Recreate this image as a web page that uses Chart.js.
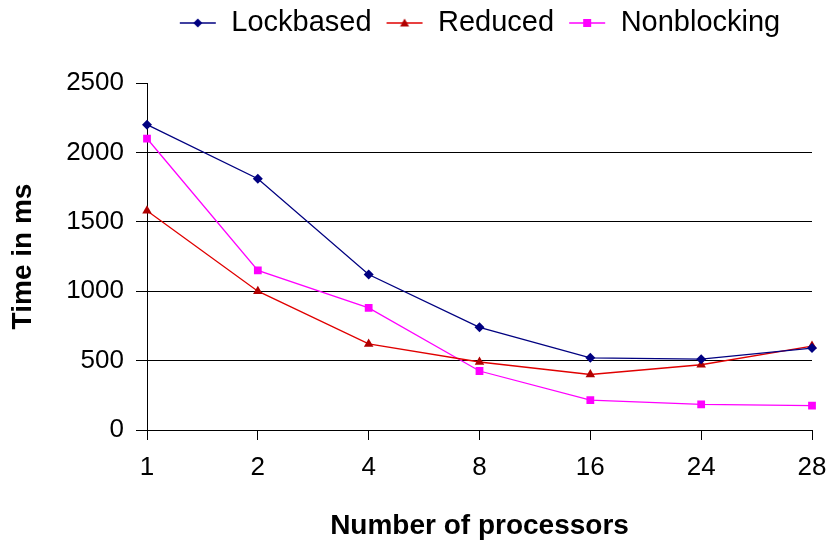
<!DOCTYPE html>
<html>
<head>
<meta charset="utf-8">
<script src="https://cdn.jsdelivr.net/npm/chart.js@4.4.1/dist/chart.umd.min.js"></script>
<style>
  html, body { margin: 0; padding: 0; background: #fff; }
</style>
</head>
<body>
<canvas id="grafico" width="832" height="546"></canvas>
<script>
const processadores = ['1', '2', '4', '8', '16', '24', '28'];
const lockbased = [2200, 1810, 1120, 740, 520, 510, 590];
const reduced = [1580, 1000, 620, 490, 400, 470, 605];
const nonblocking = [2100, 1150, 880, 425, 215, 185, 175];
const yTicks = [0, 500, 1000, 1500, 2000, 2500];

const fonte = "'Liberation Sans', Arial, sans-serif";

// little "line + marker" icons for the legend, excel style
function iconeLegenda(corLinha, corMarca, estilo) {
    const c = document.createElement('canvas');
    c.width = 38;
    c.height = 14;
    const g = c.getContext('2d');
    g.strokeStyle = corLinha;
    g.lineWidth = 1.5;
    g.beginPath();
    g.moveTo(1, 7);
    g.lineTo(37, 7);
    g.stroke();
    g.fillStyle = corMarca;
    g.beginPath();
    if (estilo === 'rectRot') {
        g.moveTo(19, 2.5); g.lineTo(23.5, 7); g.lineTo(19, 11.5); g.lineTo(14.5, 7);
    } else if (estilo === 'triangle') {
        g.moveTo(19, 2.5); g.lineTo(23.5, 10.5); g.lineTo(14.5, 10.5);
    } else {
        g.rect(15, 3, 8, 8);
    }
    g.closePath();
    g.fill();
    return c;
}

const icones = [
    iconeLegenda('#000080', '#000080', 'rectRot'),
    iconeLegenda('#e00000', '#b00000', 'triangle'),
    iconeLegenda('#ff00ff', '#ff00ff', 'rect')
];

// legend sits centred over the plot area, close to the top edge
const legendaNoCentro = {
    id: 'legendaNoCentro',
    afterLayout(chart) {
        const lg = chart.legend;
        const area = chart.chartArea;
        const dx = (area.left + area.right) / 2 - (lg.left + lg.right) / 2;
        lg.left += dx;
        lg.right += dx;
        const dy = 21 - (lg.top + lg.bottom) / 2;
        lg.top += dy;
        lg.bottom += dy;
    }
};

const ctx = document.getElementById('grafico').getContext('2d');

const meuGrafico = new Chart(ctx, {
    type: 'line',
    data: {
        labels: processadores,
        datasets: [{
            label: 'Lockbased',
            data: lockbased,
            borderColor: '#000080',
            backgroundColor: '#000080',
            borderWidth: 1.3,
            pointStyle: 'rectRot',
            pointRadius: 5,
            pointBorderWidth: 0,
            tension: 0
        }, {
            label: 'Reduced',
            data: reduced,
            borderColor: '#e00000',
            backgroundColor: '#b00000',
            borderWidth: 1.3,
            pointStyle: 'triangle',
            pointRadius: 5.5,
            pointBorderWidth: 0,
            tension: 0
        }, {
            label: 'Nonblocking',
            data: nonblocking,
            borderColor: '#ff00ff',
            backgroundColor: '#ff00ff',
            borderWidth: 1.3,
            pointStyle: 'rect',
            pointRadius: 5.5,
            pointBorderWidth: 0,
            tension: 0
        }]
    },
    options: {
        responsive: false,
        animation: false,
        layout: {
            padding: { left: 0, right: 20, top: 30, bottom: 0 }
        },
        plugins: {
            legend: {
                position: 'top',
                labels: {
                    usePointStyle: true,
                    pointStyleWidth: 38,
                    padding: 14,
                    color: '#000',
                    font: { family: fonte, size: 29 },
                    generateLabels: function (chart) {
                        return chart.data.datasets.map(function (ds, i) {
                            return {
                                text: ds.label,
                                pointStyle: icones[i],
                                fillStyle: ds.borderColor,
                                strokeStyle: ds.borderColor,
                                lineWidth: 0,
                                datasetIndex: i,
                                fontColor: '#000'
                            };
                        });
                    }
                }
            },
            tooltip: { enabled: false }
        },
        scales: {
            x: {
                offset: false,
                grid: {
                    drawOnChartArea: false,
                    color: '#000',
                    tickLength: 10
                },
                border: { color: '#000', width: 1 },
                ticks: {
                    color: '#000',
                    padding: 12,
                    maxRotation: 0,
                    font: { family: fonte, size: 26 }
                },
                title: {
                    display: true,
                    text: 'Number of processors',
                    color: '#000',
                    font: { family: fonte, size: 28, weight: 'bold' },
                    padding: { top: 0, bottom: 3 }
                },
                afterFit: function (scale) {
                    scale.height = 116;
                    // the last label only needs half its width, not the tick padding too
                    scale.paddingRight = 16;
                }
            },
            y: {
                min: 0,
                max: 2500,
                afterBuildTicks: function (scale) {
                    scale.ticks = yTicks.map(function (v) { return { value: v }; });
                },
                grid: {
                    color: function (c) {
                        return c.tick && c.tick.value === 2500 ? 'rgba(0,0,0,0)' : '#000';
                    },
                    tickColor: '#000',
                    tickLength: 11,
                    lineWidth: 1
                },
                border: { color: '#000', width: 1 },
                ticks: {
                    color: '#000',
                    padding: 12,
                    font: { family: fonte, size: 26 },
                    callback: function (v) { return String(v); }
                },
                title: {
                    display: true,
                    text: 'Time in ms',
                    color: '#000',
                    font: { family: fonte, size: 28, weight: 'bold' },
                    padding: { top: 6, bottom: 0 }
                },
                afterFit: function (scale) {
                    scale.width = 147;
                }
            }
        }
    },
    plugins: [legendaNoCentro]
});
</script>
</body>
</html>
